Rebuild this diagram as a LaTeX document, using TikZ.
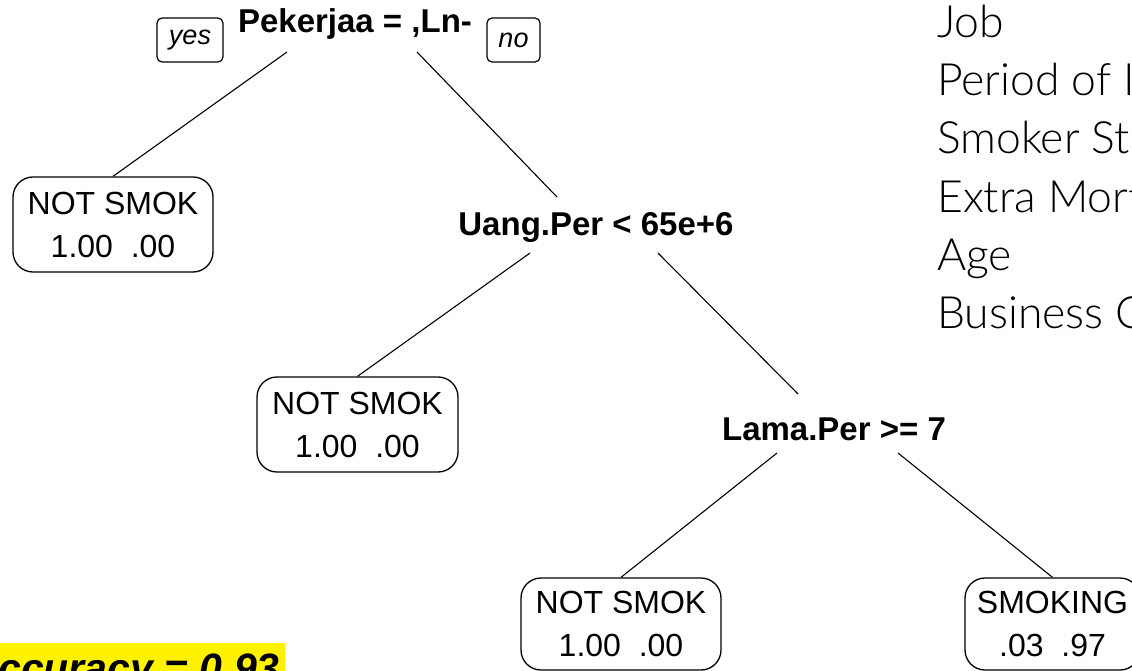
\documentclass[tikz,border=0pt]{standalone}
\usepackage{fontspec}
\setmainfont{Liberation Sans}
\newfontfamily\lgd{Lato}[UprightFont=* Light]
\usetikzlibrary{calc}
\begin{document}
\begin{tikzpicture}[x=1pt,y=-1pt,
  leaf/.style={draw, line width=1.3pt, rounded corners=20pt, minimum width=200pt, minimum height=95pt, inner sep=0pt, align=center, font=\fontsize{32}{43}\selectfont},
  split/.style={font=\bfseries\fontsize{33}{40}\selectfont, anchor=base, inner sep=0pt},
  yn/.style={draw, line width=1.2pt, rounded corners=5pt, minimum height=44pt, inner sep=0pt, font=\itshape\fontsize{27}{32}\selectfont},
  edge/.style={line width=1.1pt},
  legend/.style={font=\lgd\fontsize{44.5}{50}\selectfont, anchor=base west, inner sep=0pt},
  acc/.style={font=\bfseries\itshape\fontsize{41}{44}\selectfont, anchor=base east, inner sep=0pt}
]
\useasboundingbox (0,0) rectangle (1132,671);
\clip (0,0) rectangle (1132,671);

% tree nodes
\node[split] (root) at (355,33) {Pekerjaa = ,Ln-};
\node[yn, minimum width=66pt] (yes) at (190,40) {yes};
\node[yn, minimum width=53pt] (no) at (513.5,40) {no};
\node[leaf] (l1) at (113,224.5) {NOT SMOK\\1.00\ \ .00};
\node[split] (uang) at (596,235) {Uang.Per < 65e+6};
\node[leaf, minimum width=201pt] (l2) at (357.5,424.5) {NOT SMOK\\1.00\ \ .00};
\node[split] (lama) at (834,440) {Lama.Per >= 7};
\node[leaf, minimum height=92pt] (l3) at (621,624) {NOT SMOK\\1.00\ \ .00};
\node[leaf, minimum width=175pt, minimum height=92pt] (l4) at (1052.5,624) {SMOKING\\.03\ \ .97};

% branch end points
\coordinate (rootA) at (287,52);
\coordinate (rootB) at (417,52);
\coordinate (uangIn) at (557,197);
\coordinate (uangA) at (530,253);
\coordinate (uangB) at (658,253);
\coordinate (lamaIn) at (798,394);
\coordinate (lamaA) at (777,453);
\coordinate (lamaB) at (898,453);

\draw[edge] (rootA) -- (l1.north);
\draw[edge] (rootB) -- (uangIn);
\draw[edge] (uangA) -- (l2.north);
\draw[edge] (uangB) -- (lamaIn);
\draw[edge] (lamaA) -- (l3.north);
\draw[edge] (lamaB) -- (l4.north);

% legend
\node[legend] (g1) at (937,38) {Job};
\node[legend] (g2) at (937,96) {Period of I};
\node[legend] (g3) at (937,154) {Smoker St};
\node[legend] (g4) at (937,212) {Extra Mort};
\node[legend] (g5) at (937,270) {Age};
\node[legend] (g6) at (937,328) {Business C};

% accuracy
\fill[yellow] (-5,643) rectangle (285,680);
\node[acc] (accu) at (280,682) {Accuracy = 0.93};
\end{tikzpicture}
\end{document}
